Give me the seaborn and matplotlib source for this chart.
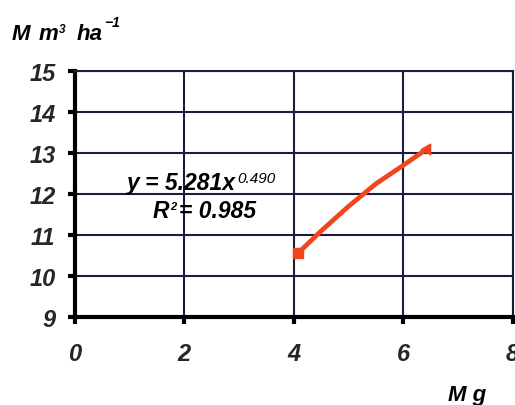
import matplotlib
matplotlib.use("Agg")
import matplotlib.pyplot as plt
from matplotlib.transforms import IdentityTransform
import seaborn as sns
import pandas as pd

# Fitted growth curve read along the plotted segment
mg_values = [4.07, 4.5, 5.0, 5.5, 6.0, 6.43]
volume_values = [10.55, 11.1, 11.7, 12.25, 12.7, 13.1]
x_ticks = [0, 2, 4, 6, 8]
y_ticks = [9, 10, 11, 12, 13, 14, 15]

sns.set_theme(style="white")
plt.rcParams["font.family"] = ["Liberation Sans", "DejaVu Sans"]
plt.rcParams["font.weight"] = "bold"
plt.rcParams["font.style"] = "italic"

df = pd.DataFrame({"Mg": mg_values, "V": volume_values})

fig = plt.figure(figsize=(5.15, 4.06), dpi=100)
ax = fig.add_axes([0.1456, 0.2167, 0.850, 0.606])

grid_color = "#1c1c3c"
line_color = "#f0461e"

sns.lineplot(data=df, x="Mg", y="V", ax=ax, color=line_color, linewidth=3.4,
             solid_capstyle="butt")
ax.plot([mg_values[0]], [volume_values[0]], marker="s", markersize=7,
        color=line_color, linestyle="none")
ax.plot([mg_values[-1]], [volume_values[-1]], marker=(3, 0, -30), markersize=9,
        color=line_color, linestyle="none")

ax.set_xlim(0, 8)
ax.set_ylim(9, 15)
ax.set_xticks(x_ticks)
ax.set_yticks(y_ticks)
ax.grid(True, color=grid_color, linewidth=1.5)
ax.set_axisbelow(True)

for side in ["left", "bottom"]:
    ax.spines[side].set_color("black")
    ax.spines[side].set_linewidth(3)
for side in ["top", "right"]:
    ax.spines[side].set_color(grid_color)
    ax.spines[side].set_linewidth(1.5)

ax.tick_params(axis="both", direction="out", length=5, width=3, color="black",
               labelsize=17, left=True, bottom=True)
ax.tick_params(axis="y", pad=9)
ax.tick_params(axis="x", pad=13)
for lbl in ax.get_xticklabels() + ax.get_yticklabels():
    lbl.set_fontweight("bold")
    lbl.set_fontstyle("italic")
ax.set_xlabel("")
ax.set_ylabel("")

renderer = fig.canvas.get_renderer()
px_per_pt = fig.dpi / 72.0


def run_of_text(x0, y0, pieces):
    """Draw text pieces left to right on one baseline (display pixels).

    Each piece is (string, fontsize, rise_in_points, weight, gap_in_pixels)."""
    x = x0
    for s, size, rise, weight, gap in pieces:
        x += gap
        t = fig.text(x, y0 + rise * px_per_pt, s, transform=IdentityTransform(),
                     ha="left", va="baseline", fontsize=size, fontweight=weight,
                     color="black")
        x = t.get_window_extent(renderer).x1


# Power-law fit annotation
ex, ey = ax.transData.transform((0.95, 12.12))
run_of_text(ex, ey, [("y = 5.281x", 16.5, 0, "bold", 0),
                     ("0.490", 11, 5, "normal", 1)])
rx, ry = ax.transData.transform((1.42, 11.44))
run_of_text(rx, ry, [("R", 16.5, 0, "bold", 0), ("2", 8, 6, "bold", 1),
                     ("= 0.985", 16.5, 0, "bold", 3)])

# Axis titles
fig_h = fig.get_figheight() * fig.dpi
fig_w = fig.get_figwidth() * fig.dpi
run_of_text(0.023 * fig_w, 0.902 * fig_h,
            [("M", 16, 0, "bold", 0), ("m", 16, 0, "bold", 8),
             ("3", 8.5, 5, "bold", 1), ("ha", 16, 0, "bold", 11),
             ("\u22121", 10, 9, "bold", 2)])

fig.text(0.87, 0.012, "M g", fontsize=16, ha="left", va="baseline", color="black")

fig.savefig("out.png", dpi=100)
